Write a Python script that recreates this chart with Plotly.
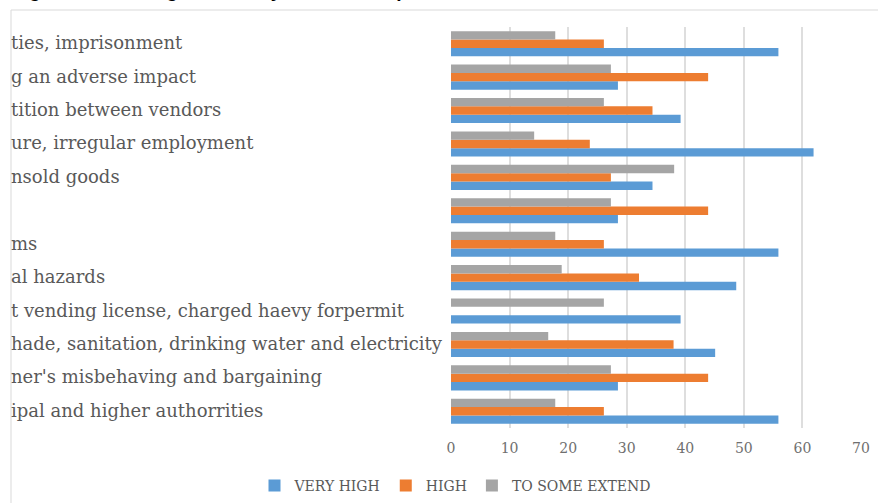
import plotly.graph_objects as go

W, H = 878, 503
L, R, T, B = 451, 861, 27, 428  # plot area in pixels

categories = [
    "ties, imprisonment",
    "g an adverse impact",
    "tition between vendors",
    "ure, irregular employment",
    "nsold goods",
    "\u200b",
    "ms",
    "al hazards",
    "t vending license, charged haevy forpermit",
    "hade, sanitation, drinking water and electricity",
    "ner's misbehaving and bargaining",
    "ipal and higher authorrities",
]
very_high = [55.9, 28.5, 39.2, 61.9, 34.4, 28.5, 55.9, 48.7, 39.2, 45.1, 28.5, 55.9]
high = [26.1, 43.9, 34.4, 23.7, 27.3, 43.9, 26.1, 32.1, 0, 38.0, 43.9, 26.1]
some_extend = [17.8, 27.3, 26.1, 14.2, 38.1, 27.3, 17.8, 18.9, 26.1, 16.6, 27.3, 17.8]
series_names = ["VERY HIGH", "HIGH", "TO SOME EXTEND"]
colors = ["#5B9BD5", "#ED7D31", "#A5A5A5"]
x_ticks = [0, 10, 20, 30, 40, 50, 60, 70]
title_text = "Figure 5: Challenges faced by different respondents"

FONT = "DejaVu Serif"
GREY = "#595959"

fig = go.Figure()
for name, vals, col in zip(series_names, [very_high, high, some_extend], colors):
    fig.add_trace(go.Bar(y=categories, x=vals, name=name, orientation="h",
                         marker=dict(color=col, line=dict(width=0))))

def px_x(p):
    return (p - L) / (R - L)

def px_y(p):
    return (B - p) / (B - T)

annotations = []
for c in categories:
    annotations.append(dict(x=px_x(9), xref="paper", y=c, yref="y", yshift=1, text=c,
                            xanchor="left", yanchor="middle", showarrow=False,
                            font=dict(family=FONT, size=18, color=GREY)))
annotations.append(dict(x=px_x(10), xref="paper", y=px_y(-9.5), yref="paper",
                        text="<b>" + title_text + "</b>", xanchor="left", yanchor="middle",
                        showarrow=False,
                        font=dict(family="Liberation Sans", size=19, color="#000000")))

shapes = [
    dict(type="line", xref="paper", yref="paper", x0=px_x(11), x1=px_x(W + 5),
         y0=px_y(10), y1=px_y(10), line=dict(color="#D9D9D9", width=1)),
    dict(type="line", xref="paper", yref="paper", x0=px_x(11), x1=px_x(11),
         y0=px_y(10), y1=px_y(H + 5), line=dict(color="#D9D9D9", width=1)),
]

fig.update_layout(
    width=W, height=H,
    margin=dict(l=L, r=W - R, t=T, b=H - B, pad=0, autoexpand=False),
    paper_bgcolor="white", plot_bgcolor="white",
    barmode="group", bargap=0.25, bargroupgap=0,
    showlegend=True,
    legend=dict(orientation="h", x=px_x(455), xanchor="center", y=px_y(486), yanchor="middle",
                font=dict(family=FONT, size=14, color=GREY), traceorder="normal",
                itemwidth=30),
    annotations=annotations,
    shapes=shapes,
    xaxis=dict(range=[0, 70], tickvals=x_ticks, showgrid=True, gridcolor="#DEDEDE",
               gridwidth=1.5, zeroline=False, showline=False, ticks="",
               ticklabelstandoff=10,
               tickfont=dict(family=FONT, size=14, color="#6F6F6F"), fixedrange=True),
    yaxis=dict(categoryorder="array", categoryarray=categories[::-1],
               showticklabels=False, showgrid=False, zeroline=False, showline=False),
)

fig.write_html("out.html")
